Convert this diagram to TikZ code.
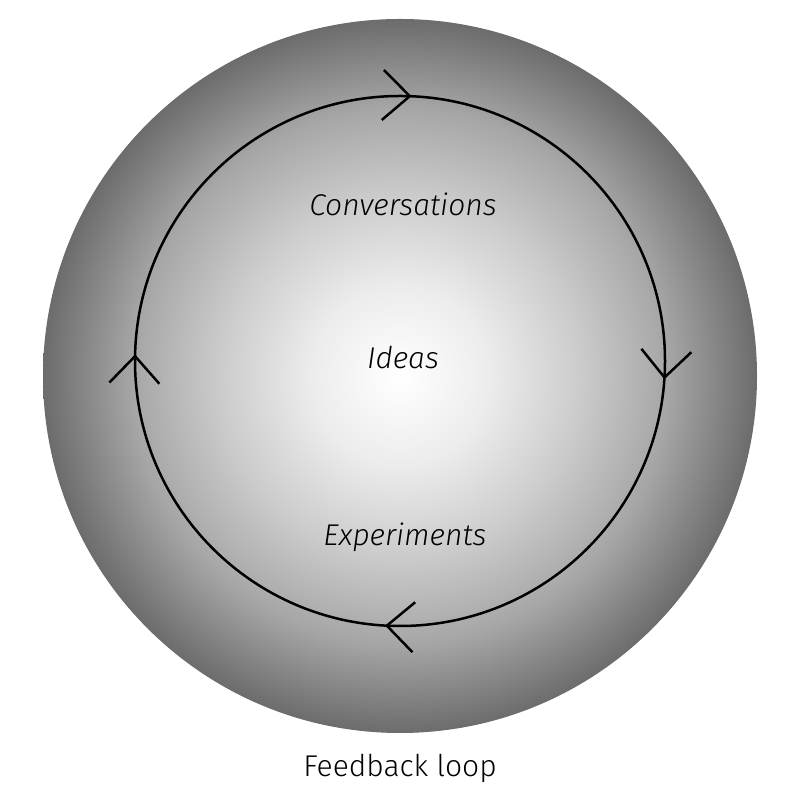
\documentclass[tikz,border=0pt]{standalone}
\usepackage{fontspec}
\setmainfont{Fira Sans}[UprightFont=* Light, ItalicFont=* Light Italic]
\usetikzlibrary{arrows.meta,decorations.markings}
\definecolor{g0}{RGB}{255,255,255}
\definecolor{g1}{RGB}{236,236,236}
\definecolor{g2}{RGB}{204,204,204}
\definecolor{g3}{RGB}{166,166,166}
\definecolor{g4}{RGB}{108,108,108}
\pgfdeclareradialshading{sphere}{\pgfpoint{0bp}{0bp}}{color(0bp)=(g0); color(6.25bp)=(g1); color(12.5bp)=(g2); color(18.75bp)=(g3); color(25bp)=(g4); color(50bp)=(g4)}
\tikzset{chev/.tip={Straight Barb[length=27pt,width=50pt,line width=2.5pt]}}
\begin{document}
\begin{tikzpicture}[x=1pt,y=1pt,
  label/.style={font=\fontsize{30}{36}\selectfont\itshape, inner sep=0pt},
  loopline/.style={line width=2.5pt, black}]
\useasboundingbox (0,0) rectangle (800,800);
\coordinate (oc) at (400,424);
\coordinate (ic) at (400,439);
\shade[shading=sphere] (oc) circle[radius=357];
\draw[loopline, postaction={decorate}, decoration={markings,
    mark=at position 0.011 with {\arrow{chev}},
    mark=at position 0.259 with {\arrow{chev}},
    mark=at position 0.504 with {\arrow{chev}},
    mark=at position 0.757 with {\arrow{chev}}}]
  (ic) ++(0:265) arc[start angle=360, end angle=0, radius=265];
\node[label] (conv) at (403,596) {Conversations};
\node[label] (ideas) at (403,442) {Ideas};
\node[label] (exp) at (405,263) {Experiments};
\node[font=\fontsize{30}{36}\selectfont, inner sep=0pt] (fb) at (400,32) {Feedback loop};
\end{tikzpicture}
\end{document}
